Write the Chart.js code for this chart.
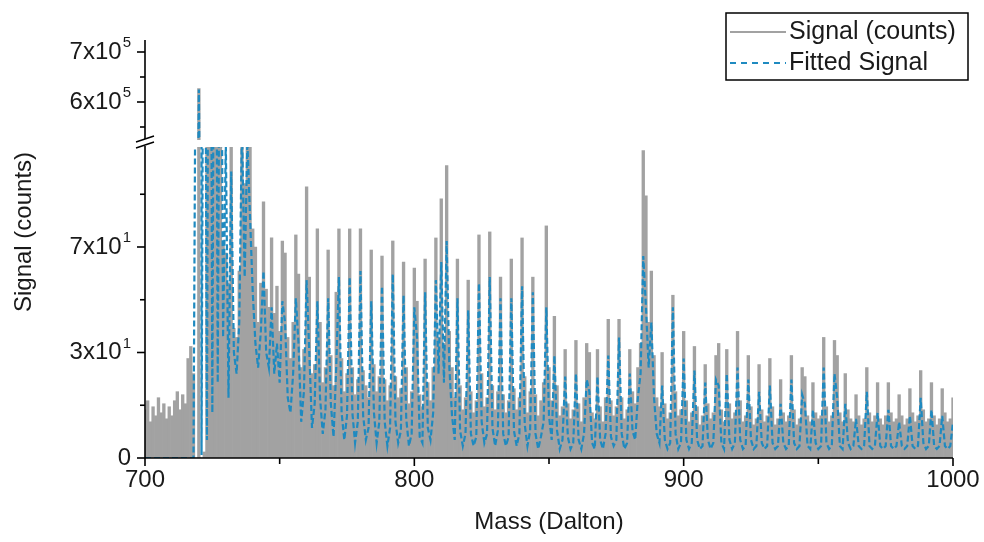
<!DOCTYPE html>
<html>
<head>
<meta charset="utf-8">
<title>Signal vs Mass</title>
<script src="https://cdn.jsdelivr.net/npm/chart.js@4.4.1/dist/chart.umd.min.js"></script>
<style>
  html, body { margin: 0; padding: 0; background: #fff; }
  #wrap { width: 984px; height: 542px; }
</style>
</head>
<body>
<div id="wrap"><canvas id="chart"></canvas></div>
<script>
// Mass axis: one sample per Dalton, 700 .. 1000
const massStart = 700;
const massStep = 1;

// Measured spectrum (counts), rows of 10 starting at the mass in the comment
const signalCounts = [
  16, 19, 12, 17, 14, 20, 15, 18, 13, 17,          // 700
  14, 19, 22, 16, 21, 18, 33, 37, 28, 0,           // 710
  627000, 0, 2, 420, 360, 510, 300, 260, 190, 71,  // 720
  68, 58, 140, 43, 40, 62, 150, 91, 160, 130,      // 730
  76, 70, 45, 58, 85, 56, 50, 73, 48, 57,          // 740
  42, 72, 68, 40, 33, 45, 74, 61, 30, 36,          // 750
  90, 60, 28, 31, 76, 45, 25, 30, 69, 34,          // 760
  24, 55, 76, 33, 22, 28, 76, 30, 21, 26,          // 770
  76, 29, 24, 20, 69, 31, 22, 27, 67, 26,          // 780
  19, 24, 72, 27, 20, 23, 65, 30, 18, 22,          // 790
  63, 52, 21, 17, 66, 25, 19, 30, 73, 40,          // 800
  86, 38, 97, 42, 30, 20, 66, 24, 16, 20,          // 810
  59, 22, 15, 19, 74, 28, 17, 20, 75, 24,          // 820
  16, 22, 60, 21, 15, 19, 66, 23, 16, 20,          // 830
  73, 27, 15, 22, 60, 21, 14, 19, 25, 77,          // 840
  30, 19, 47, 24, 14, 17, 36, 18, 13, 16,          // 850
  39, 18, 12, 20, 38, 35, 15, 13, 36, 17,          // 860
  12, 20, 46, 19, 14, 17, 46, 20, 13, 16,          // 870
  36, 22, 18, 30, 38, 102, 87, 45, 62, 34,         // 880
  20, 17, 35, 18, 13, 15, 54, 22, 14, 16,          // 890
  42, 19, 12, 15, 37, 17, 11, 14, 31, 18,          // 900
  13, 15, 34, 38, 16, 12, 36, 18, 13, 15,          // 910
  42, 19, 12, 14, 34, 17, 11, 13, 31, 16,          // 920
  12, 14, 33, 17, 11, 13, 26, 15, 12, 14,          // 930
  34, 16, 11, 13, 30, 27, 14, 12, 25, 15,          // 940
  13, 14, 40, 17, 12, 14, 39, 34, 15, 12,          // 950
  28, 16, 13, 12, 21, 14, 11, 13, 30, 15,          // 960
  12, 14, 25, 13, 11, 14, 25, 15, 12, 13,          // 970
  21, 14, 11, 13, 23, 15, 12, 14, 29, 16,          // 980
  12, 13, 25, 14, 11, 13, 23, 15, 12, 13,          // 990
  20                                               // 1000
];

// Fitted spectrum (counts), same masses
const fittedCounts = [
  0, 0, 0, 0, 0, 0, 0, 0, 0, 0,                    // 700
  0, 0, 0, 0, 0, 0, 0, 0, 0, 180,                  // 710
  625000, 1, 260, 6, 320, 15, 280, 25, 210, 40,    // 720
  105, 20, 95, 35, 28, 45, 110, 60, 105, 80,       // 730
  55, 38, 30, 42, 62, 35, 30, 50, 28, 38,          // 740
  25, 52, 45, 20, 15, 28, 53, 38, 12, 22,          // 750
  59, 35, 10, 18, 52, 20, 8, 16, 53, 18,           // 760
  7, 30, 60, 15, 6, 14, 60, 15, 5, 12,             // 770
  62, 14, 6, 10, 52, 15, 5, 12, 57, 12,            // 780
  4, 10, 61, 12, 5, 9, 54, 13, 4, 8,               // 790
  50, 40, 7, 5, 55, 10, 6, 15, 59, 28,             // 800
  65, 25, 72, 30, 14, 6, 53, 9, 4, 8,              // 810
  49, 8, 4, 7, 58, 12, 5, 8, 60, 10,               // 820
  4, 9, 53, 8, 4, 7, 53, 9, 4, 8,                  // 830
  57, 11, 4, 9, 55, 8, 3, 7, 12, 50,               // 840
  14, 6, 34, 9, 3, 6, 27, 7, 3, 5,                 // 850
  28, 6, 3, 8, 26, 22, 5, 3, 27, 6,                // 860
  3, 8, 34, 7, 4, 6, 40, 8, 3, 5,                  // 870
  28, 9, 6, 20, 28, 67, 50, 30, 45, 20,            // 880
  8, 5, 24, 6, 3, 5, 50, 8, 3, 5,                  // 890
  33, 6, 3, 5, 29, 6, 3, 4, 25, 6,                 // 900
  3, 5, 26, 24, 5, 3, 28, 6, 3, 5,                 // 910
  30, 6, 3, 4, 26, 6, 3, 4, 22, 5,                 // 920
  3, 4, 24, 5, 3, 4, 18, 5, 3, 4,                  // 930
  26, 5, 3, 4, 21, 18, 4, 3, 16, 5,                // 940
  3, 4, 30, 5, 3, 4, 28, 20, 4, 3,                 // 950
  18, 5, 3, 4, 13, 4, 3, 4, 22, 4,                 // 960
  3, 4, 15, 4, 3, 4, 16, 4, 3, 4,                  // 970
  12, 4, 3, 4, 14, 4, 3, 4, 20, 5,                 // 980
  3, 4, 16, 4, 3, 4, 14, 4, 3, 4,                  // 990
  12                                               // 1000
];

// Tick marks and labels ('' = minor tick, '^' marks the exponent)
const xTickValues = [700, 750, 800, 850, 900, 950, 1000];
const xTickLabels = ['700', '', '800', '', '900', '', '1000'];
const lowTickValues = [0, 17.5, 35, 52.5, 70, 87.5];
const lowTickLabels = ['0', '', '3x10^1', '', '7x10^1', ''];
const topTickValues = [550000, 600000, 650000, 700000];
const topTickLabels = ['', '6x10^5', '', '7x10^5'];

// Broken y axis: lower and upper segment ranges
const lowRange = [0, 104.5];
const topRange = [518000, 724000];

const seriesNames = ['Signal (counts)', 'Fitted Signal'];
const grayColor = '#a2a2a2';
const blueColor = '#1f8ac0';
const textColor = '#1a1a1a';
const FONT = "'Liberation Sans', Arial, sans-serif";

const toPoints = arr => arr.map((v, i) => ({ x: massStart + i * massStep, y: v }));
const signalPts = toPoints(signalCounts);
const fittedPts = toPoints(fittedCounts);

// clip each dataset to its own segment, leaving a gap at the break
const segmentClip = {
  id: 'segmentClip',
  beforeDatasetDraw(chart, args) {
    const s = chart.scales[args.meta.yAxisID];
    const a = chart.chartArea;
    const top = s.id === 'yTop' ? s.top - 2 : s.top + 4;
    const bottom = s.id === 'yTop' ? s.bottom - 3 : s.bottom + 2;
    const ctx = chart.ctx;
    ctx.save();
    ctx.beginPath();
    ctx.rect(a.left, top, a.right - a.left, bottom - top);
    ctx.clip();
  },
  afterDatasetDraw(chart) {
    chart.ctx.restore();
  }
};

function drawSupLabel(ctx, text, xRight, y) {
  const [base, sup] = text.split('^');
  ctx.font = '24px ' + FONT;
  const wb = ctx.measureText(base).width;
  let ws = 0;
  if (sup) {
    ctx.font = '15px ' + FONT;
    ws = ctx.measureText(sup).width + 1;
  }
  const x0 = xRight - wb - ws;
  ctx.font = '24px ' + FONT;
  ctx.textAlign = 'left';
  ctx.textBaseline = 'middle';
  ctx.fillText(base, x0, y);
  if (sup) {
    ctx.font = '15px ' + FONT;
    ctx.fillText(sup, x0 + wb + 1, y - 9);
  }
}

// axes, ticks, break marks, titles, legend
const decorations = {
  id: 'decorations',
  afterDraw(chart) {
    const ctx = chart.ctx;
    const a = chart.chartArea;
    const xs = chart.scales.x, yl = chart.scales.y, yt = chart.scales.yTop;
    const axisX = a.left;
    const brk = yl.top;
    ctx.save();
    ctx.strokeStyle = '#000';
    ctx.fillStyle = textColor;
    ctx.lineWidth = 1.6;

    // axis lines
    ctx.beginPath();
    ctx.moveTo(axisX, a.top);
    ctx.lineTo(axisX, brk - 4);
    ctx.moveTo(axisX, brk + 3);
    ctx.lineTo(axisX, a.bottom);
    ctx.moveTo(axisX, a.bottom);
    ctx.lineTo(a.right, a.bottom);
    ctx.stroke();

    // break marks
    ctx.lineWidth = 1.4;
    ctx.beginPath();
    ctx.moveTo(axisX - 9, brk - 1);
    ctx.lineTo(axisX + 9, brk - 7);
    ctx.moveTo(axisX - 9, brk + 5);
    ctx.lineTo(axisX + 9, brk - 1);
    ctx.stroke();

    // x ticks
    ctx.lineWidth = 1.6;
    ctx.font = '24px ' + FONT;
    ctx.textAlign = 'center';
    ctx.textBaseline = 'middle';
    xTickValues.forEach((v, i) => {
      const px = xs.getPixelForValue(v);
      const len = xTickLabels[i] ? 8 : 6;
      ctx.beginPath();
      ctx.moveTo(px, a.bottom);
      ctx.lineTo(px, a.bottom + len);
      ctx.stroke();
      if (xTickLabels[i]) ctx.fillText(xTickLabels[i], px, a.bottom + 22);
    });

    // y ticks, both segments
    [[yl, lowTickValues, lowTickLabels], [yt, topTickValues, topTickLabels]].forEach(([s, vals, labs]) => {
      vals.forEach((v, i) => {
        const py = s.getPixelForValue(v);
        const len = labs[i] ? 8 : 5;
        ctx.beginPath();
        ctx.moveTo(axisX - len, py);
        ctx.lineTo(axisX, py);
        ctx.stroke();
        if (labs[i]) drawSupLabel(ctx, labs[i], axisX - 14, py);
      });
    });

    // axis titles
    ctx.font = '24px ' + FONT;
    ctx.textAlign = 'center';
    ctx.textBaseline = 'middle';
    ctx.fillText('Mass (Dalton)', (a.left + a.right) / 2, 522);
    ctx.save();
    ctx.translate(24, 232);
    ctx.rotate(-Math.PI / 2);
    ctx.fillText('Signal (counts)', 0, 0);
    ctx.restore();

    // legend
    const lx = 726, ly = 13, lw = 242, lh = 67;
    ctx.lineWidth = 1.5;
    ctx.strokeStyle = '#000';
    ctx.strokeRect(lx, ly, lw, lh);
    const rows = [
      { name: seriesNames[0], color: grayColor, dash: [], y: ly + 19 },
      { name: seriesNames[1], color: blueColor, dash: [6, 5], y: ly + 50 }
    ];
    rows.forEach(r => {
      ctx.strokeStyle = r.color;
      ctx.lineWidth = 2;
      ctx.setLineDash(r.dash);
      ctx.beginPath();
      ctx.moveTo(lx + 4, r.y);
      ctx.lineTo(lx + 60, r.y);
      ctx.stroke();
      ctx.setLineDash([]);
      ctx.fillStyle = textColor;
      ctx.font = '25px ' + FONT;
      ctx.textAlign = 'left';
      ctx.fillText(r.name, lx + 63, r.y);
    });
    ctx.restore();
  }
};

const ctx = document.getElementById('chart').getContext('2d');
new Chart(ctx, {
  type: 'bar',
  data: {
    datasets: [
      { type: 'bar', label: seriesNames[0], data: signalPts, yAxisID: 'y', order: 1,
        backgroundColor: grayColor, borderWidth: 0, grouped: false,
        barPercentage: 1, categoryPercentage: 1 },
      { type: 'line', label: seriesNames[1], data: fittedPts, yAxisID: 'y', order: 0,
        borderColor: blueColor, borderWidth: 2.2, borderDash: [6, 3],
        pointRadius: 0, fill: false, tension: 0 },
      { type: 'bar', label: seriesNames[0], data: signalPts, yAxisID: 'yTop', order: 1,
        backgroundColor: grayColor, borderWidth: 0, grouped: false,
        barPercentage: 1, categoryPercentage: 1 },
      { type: 'line', label: seriesNames[1], data: fittedPts, yAxisID: 'yTop', order: 0,
        borderColor: blueColor, borderWidth: 2.2, borderDash: [6, 3],
        pointRadius: 0, fill: false, tension: 0 }
    ]
  },
  options: {
    responsive: true,
    maintainAspectRatio: false,
    animation: false,
    layout: { padding: { top: 40, right: 31, bottom: 0, left: 0 } },
    plugins: { legend: { display: false }, tooltip: { enabled: false } },
    scales: {
      x: {
        type: 'linear', min: 700, max: 1000, offset: false,
        grid: { display: false, offset: false }, border: { display: false },
        ticks: { display: false },
        afterFit: s => { s.height = 84; }
      },
      y: {
        type: 'linear', position: 'left', stack: 'signal', stackWeight: 315,
        min: lowRange[0], max: lowRange[1],
        grid: { display: false }, border: { display: false }, ticks: { display: false },
        afterFit: s => { s.width = 145; }
      },
      yTop: {
        type: 'linear', position: 'left', stack: 'signal', stackWeight: 103,
        min: topRange[0], max: topRange[1],
        grid: { display: false }, border: { display: false }, ticks: { display: false },
        afterFit: s => { s.width = 145; }
      }
    }
  },
  plugins: [segmentClip, decorations]
});
</script>
</body>
</html>
